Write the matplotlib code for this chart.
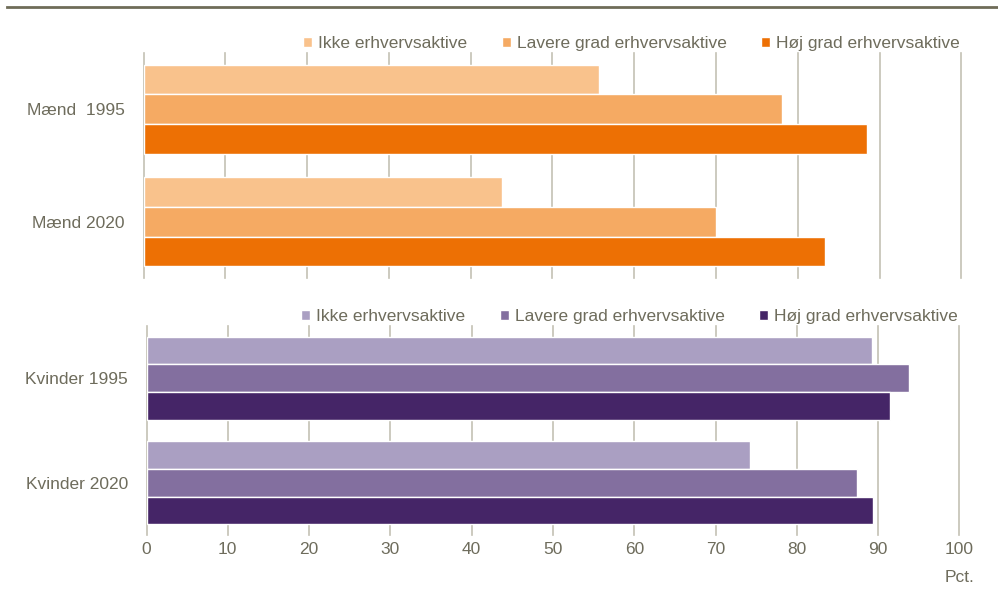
import numpy as np
import matplotlib.pyplot as plt
from matplotlib import font_manager

# Andel pct. fordelt på erhvervsaktivitet
groups_m = ['Mænd  1995', 'Mænd 2020']
groups_k = ['Kvinder 1995', 'Kvinder 2020']
series = ['Ikke erhvervsaktive', 'Lavere grad erhvervsaktive', 'Høj grad erhvervsaktive']

maend_ikke = [55.7, 43.8]
maend_lavere = [78.1, 70.0]
maend_hoj = [88.4, 83.3]

kvinder_ikke = [89.3, 74.2]
kvinder_lavere = [93.8, 87.4]
kvinder_hoj = [91.4, 89.4]

xticks = [0, 10, 20, 30, 40, 50, 60, 70, 80, 90, 100]

orange = ['#f9c28c', '#f5aa63', '#ed7004']
purple = ['#aa9fc2', '#836f9f', '#452567']
text_col = '#6e6c5c'
grid_col = '#c3c1b4'

names = {f.name for f in font_manager.fontManager.ttflist}
if 'Liberation Sans Narrow' in names:
    plt.rcParams['font.family'] = ['Liberation Sans Narrow', 'DejaVu Sans']
    fs = 14.5
else:
    plt.rcParams['font.family'] = ['Liberation Sans', 'DejaVu Sans']
    fs = 12.5

fig = plt.figure(figsize=(9.98, 5.93), dpi=100)
ax1 = fig.add_axes([0.1438, 0.5312, 0.8196, 0.3794])
ax2 = fig.add_axes([0.1468, 0.0978, 0.8146, 0.3524])

# dark rule at the top
fig.add_artist(plt.Line2D([0.007, 1.0], [0.989, 0.989], color='#6f6c58', lw=2))


def panel(ax, labels, data, colors, bottom):
    y = np.arange(len(labels))
    off = 0.265
    for i, (vals, c, name) in enumerate(zip(data, colors, series)):
        ax.barh(y + (i - 1) * off, vals, height=off, color=c, edgecolor='white',
                linewidth=1, label=name, zorder=2)
    for t in xticks:
        ax.axvline(t, color=grid_col, lw=1.2, zorder=0, clip_on=False)
    ax.set_xlim(0, 100)
    ax.set_ylim(1.5, -0.5)
    ax.set_yticks(y)
    ax.set_yticklabels(labels, fontsize=fs, color=text_col)
    ax.tick_params(axis='y', length=0, pad=13.5)
    ax.set_xticks(xticks)
    if bottom:
        ax.tick_params(axis='x', length=0, pad=5, labelsize=fs, labelcolor=text_col)
        ax.text(100, -0.205, 'Pct.', transform=ax.get_xaxis_transform(),
                ha='center', va='center', fontsize=fs, color=text_col)
    else:
        ax.tick_params(axis='x', length=0, labelbottom=False)
    for s in ax.spines.values():
        s.set_visible(False)
    leg = ax.legend(loc='lower right', bbox_to_anchor=(1.0, 1.0), ncol=3, frameon=False,
                    fontsize=fs, handlelength=0.5, handleheight=0.5, handletextpad=0.35,
                    columnspacing=2.0, borderaxespad=0.1, borderpad=0.0)
    for t in leg.get_texts():
        t.set_color(text_col)


panel(ax1, groups_m, [maend_ikke, maend_lavere, maend_hoj], orange, False)
panel(ax2, groups_k, [kvinder_ikke, kvinder_lavere, kvinder_hoj], purple, True)

fig.savefig('out.png', dpi=100)
